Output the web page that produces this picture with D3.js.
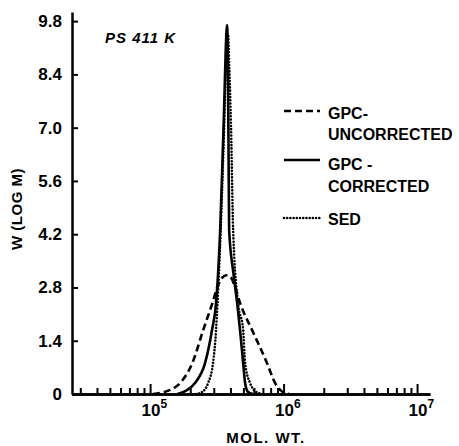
<!DOCTYPE html>
<html>
<head>
<meta charset="utf-8">
<script src="https://cdn.jsdelivr.net/npm/d3@7"></script>
<style>
  html, body { margin: 0; padding: 0; background: #fff; }
  svg text { font-family: 'Liberation Sans', Arial, sans-serif; font-weight: bold; fill: #000; }
</style>
</head>
<body>
<div id="main"></div>
<script>
// molecular weight vs W(log M)
const uncorrected = [
  [1.05e5, 0], [1.2e5, 0.03], [1.4e5, 0.1], [1.68e5, 0.29], [2.07e5, 0.81], [2.5e5, 1.68],
  [2.93e5, 2.39], [3.23e5, 2.86], [3.46e5, 3.05], [3.75e5, 3.12], [4.05e5, 3.05], [4.34e5, 2.8],
  [4.72e5, 2.39], [5.81e5, 1.68], [7.52e5, 0.81], [8.63e5, 0.29], [9.8e5, 0.06], [1.1e6, 0]
];
const corrected = [
  [1.6e5, 0], [1.85e5, 0.08], [2.17e5, 0.29], [2.58e5, 0.81], [2.91e5, 1.68], [3.12e5, 2.39],
  [3.35e5, 4.31], [3.55e5, 7.0], [3.78e5, 9.7], [3.86e5, 7.0], [3.91e5, 4.31], [4.2e5, 3.2],
  [4.49e5, 2.39], [4.72e5, 1.68], [4.98e5, 0.81], [5.15e5, 0.29], [5.4e5, 0.06], [5.9e5, 0]
];
const sed = [
  [2.2e5, 0], [2.45e5, 0.05], [2.72e5, 0.29], [2.96e5, 0.81], [3.12e5, 1.68], [3.2e5, 2.39],
  [3.38e5, 4.3], [3.55e5, 6.5], [3.72e5, 8.8], [3.84e5, 9.45], [3.92e5, 8.6], [4.04e5, 7.0],
  [4.19e5, 4.31], [4.56e5, 2.39], [4.98e5, 1.68], [5.15e5, 0.81], [5.61e5, 0.29], [6.33e5, 0.04], [7e5, 0]
];
const yTicks = [0, 1.4, 2.8, 4.2, 5.6, 7.0, 8.4, 9.8];
const xMajorTicks = [1e5, 1e6, 1e7];
const xMinorTicks = [3e4, 4e4, 5e4, 6e4, 7e4, 8e4, 9e4,
  2e5, 3e5, 4e5, 5e5, 6e5, 7e5, 8e5, 9e5,
  2e6, 3e6, 4e6, 5e6, 6e6, 7e6, 8e6, 9e6];
const legendLabels = [['GPC-', 'UNCORRECTED'], ['GPC -', 'CORRECTED'], ['SED']];
const sampleLabel = 'PS 411 K';

const WIDTH = 459, HEIGHT = 446;
const svg = d3.select('#main').append('svg')
  .attr('width', WIDTH).attr('height', HEIGHT);

const x = d3.scaleLog().domain([2.6e4, 1.25e7]).range([72, 430]);
const y = d3.scaleLinear().domain([0, 10.04]).range([394, 12]);

// x axis: minor and major ticks pointing up
svg.append('g')
  .attr('transform', `translate(0,${y(0)})`)
  .call(d3.axisBottom(x).tickValues(xMinorTicks).tickSize(-6).tickSizeOuter(0).tickFormat(''));
const xMajor = svg.append('g')
  .attr('transform', `translate(0,${y(0)})`)
  .call(d3.axisBottom(x).tickValues(xMajorTicks).tickSize(-10).tickSizeOuter(0).tickFormat(''));
xMajor.selectAll('.tick text').remove();
xMajor.selectAll('.tick').append('text')
  .attr('x', -9).attr('y', 22)
  .attr('text-anchor', 'start')
  .style('font-size', '17px')
  .each(function(d) {
    const t = d3.select(this);
    t.append('tspan').text('10');
    t.append('tspan').attr('dy', -8).style('font-size', '12px').text(Math.round(Math.log10(d)));
  });

const yAxis = svg.append('g')
  .attr('transform', `translate(${x.range()[0]},0)`)
  .call(d3.axisLeft(y).tickValues(yTicks).tickSize(-6).tickSizeOuter(0).tickPadding(10)
    .tickFormat((d) => d === 0 ? '0' : d3.format('.1f')(d)));
yAxis.selectAll('.tick text').style('font-size', '17px');

svg.selectAll('.domain').attr('stroke', '#000').attr('stroke-width', 2.5);
svg.selectAll('.tick line').attr('stroke', '#000').attr('stroke-width', 2);

// axis titles
svg.append('text')
  .attr('x', 266).attr('y', 443)
  .attr('text-anchor', 'middle')
  .style('font-size', '15px').style('letter-spacing', '1.5px')
  .text('MOL. WT.');
svg.append('text')
  .attr('transform', 'translate(22,209) rotate(-90)')
  .attr('text-anchor', 'middle')
  .style('font-size', '15px').style('letter-spacing', '0.5px')
  .text('W (LOG M)');
svg.append('text')
  .attr('x', 105).attr('y', 43)
  .style('font-size', '15px').style('font-style', 'italic').style('letter-spacing', '1px')
  .text(sampleLabel);

// curves
const line = d3.line()
  .x((d) => x(d[0]))
  .y((d) => y(d[1]))
  .curve(d3.curveMonotoneX);
const styles = [
  {data: uncorrected, dash: '7,4', width: 2.6, cap: 'butt'},
  {data: sed, dash: '0.01,3.2', width: 2.6, cap: 'round'},
  {data: corrected, dash: null, width: 2.6, cap: 'butt'}
];
styles.forEach((s) => {
  svg.append('path')
    .datum(s.data)
    .attr('d', line)
    .attr('fill', 'none')
    .attr('stroke', '#000')
    .attr('stroke-width', s.width)
    .attr('stroke-linecap', s.cap)
    .attr('stroke-dasharray', s.dash);
});

// legend
const legendRows = [
  {lineY: 111, textY: [119, 140], style: styles[0]},
  {lineY: 160, textY: [170, 192], style: styles[2]},
  {lineY: 218, textY: [225], style: styles[1]}
];
legendRows.forEach((r, i) => {
  svg.append('line')
    .attr('x1', 284).attr('x2', 320)
    .attr('y1', r.lineY).attr('y2', r.lineY)
    .attr('stroke', '#000')
    .attr('stroke-width', r.style.width)
    .attr('stroke-linecap', r.style.cap)
    .attr('stroke-dasharray', r.style.dash);
  legendLabels[i].forEach((lab, j) => {
    svg.append('text')
      .attr('x', 328).attr('y', r.textY[j])
      .style('font-size', '16px')
      .text(lab);
  });
});
</script>
</body>
</html>
